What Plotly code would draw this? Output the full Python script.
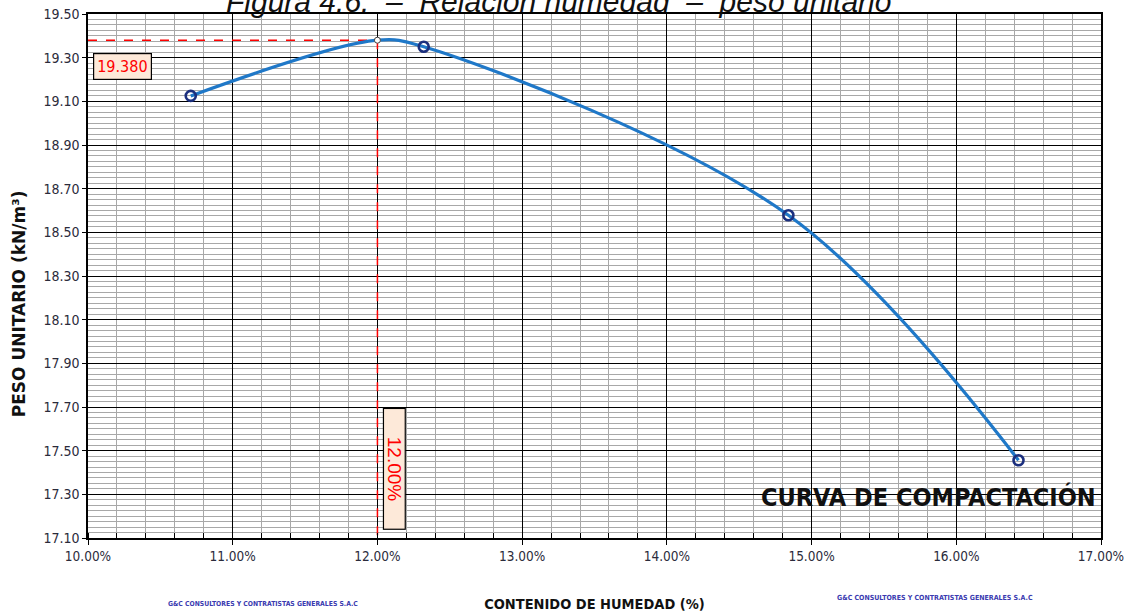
import plotly.graph_objects as go

# ---------------- data ----------------
moisture_pct = [10.71, 12.32, 14.84, 16.43]          # CONTENIDO DE HUMEDAD (%)
unit_weight = [19.125, 19.350, 18.578, 17.456]       # PESO UNITARIO (kN/m3)
omc_pct = 12.00                                      # optimum moisture content
max_unit_weight = 19.380                             # maximum unit weight
x_range = [10.0, 17.0]
y_range = [17.10, 19.50]
x_tick_vals = [10, 11, 12, 13, 14, 15, 16, 17]
x_tick_text = ["10.00%", "11.00%", "12.00%", "13.00%", "14.00%", "15.00%", "16.00%", "17.00%"]
y_tick_vals = [17.10, 17.30, 17.50, 17.70, 17.90, 18.10, 18.30, 18.50, 18.70, 18.90, 19.10, 19.30, 19.50]

title_text = "Figura 4.6.  –  Relación humedad  –  peso unitario"
company = "G&C CONSULTORES Y CONTRATISTAS GENERALES S.A.C"

NARROW = "Liberation Sans Narrow, DejaVu Sans Condensed, Arial Narrow, sans-serif"
TICK_COLOR = "#2b2b3b"

# curve through the test points and the peak
curve = sorted(list(zip(moisture_pct, unit_weight)) + [(omc_pct, max_unit_weight)])
curve_x = [p[0] for p in curve]
curve_y = [p[1] for p in curve]

fig = go.Figure()

# red dashed reference lines
fig.add_trace(go.Scatter(
    x=[x_range[0], omc_pct], y=[max_unit_weight, max_unit_weight],
    mode="lines", line=dict(color="#ff0000", width=1.5, dash="dash"),
    hoverinfo="skip", showlegend=False))
fig.add_trace(go.Scatter(
    x=[omc_pct, omc_pct], y=[max_unit_weight, y_range[0]],
    mode="lines", line=dict(color="#ff0000", width=1.5, dash="dash"),
    hoverinfo="skip", showlegend=False))

# smooth compaction curve
fig.add_trace(go.Scatter(
    x=curve_x, y=curve_y, mode="lines",
    line=dict(color="#1f78c8", width=3.2, shape="spline", smoothing=1.0),
    hoverinfo="skip", showlegend=False))

# test points
fig.add_trace(go.Scatter(
    x=moisture_pct, y=unit_weight, mode="markers",
    marker=dict(symbol="circle-open", size=10, color="#1b2f7e", line=dict(width=2.6, color="#1b2f7e")),
    showlegend=False))

# peak marker
fig.add_trace(go.Scatter(
    x=[omc_pct], y=[max_unit_weight], mode="markers",
    marker=dict(symbol="circle", size=6, color="white", line=dict(width=1, color="#444444")),
    showlegend=False))

fig.update_layout(
    width=1124, height=614,
    margin=dict(l=88, r=23, t=14, b=76, autoexpand=False),
    paper_bgcolor="white", plot_bgcolor="white",
    showlegend=False,
)

fig.update_xaxes(
    range=x_range, tickvals=x_tick_vals, ticktext=x_tick_text,
    automargin=False, ticklabeloverflow="allow",
    showgrid=True, gridcolor="#000000", gridwidth=1,
    showline=True, linecolor="#000000", linewidth=1.5, mirror=True,
    ticks="outside", ticklen=5, tickcolor="#000000",
    tickfont=dict(family=NARROW, size=13.5, color=TICK_COLOR),
    zeroline=False,
    minor=dict(dtick=0.2, tick0=10, showgrid=True, gridcolor="#a8a8a8", gridwidth=1,
               ticks="inside", ticklen=5, tickcolor="#000000"),
    title=dict(text="<b>CONTENIDO DE HUMEDAD (%)</b>", standoff=36,
               font=dict(family=NARROW, size=14.5, color="#111111")),
)

fig.update_yaxes(
    range=y_range, tickvals=y_tick_vals, tickformat=".2f",
    automargin=False,
    showgrid=True, gridcolor="#000000", gridwidth=1,
    showline=True, linecolor="#000000", linewidth=1.5, mirror=True,
    ticks="outside", ticklen=4, tickcolor="#000000",
    tickfont=dict(family=NARROW, size=14, color=TICK_COLOR),
    zeroline=False,
    minor=dict(dtick=0.025, tick0=17.1, showgrid=True, gridcolor="#a8a8a8", gridwidth=1),
)

annotations = [
    # cut-off title at top
    dict(text="<i>" + title_text + "</i>", xref="paper", yref="paper",
         x=(558 - 88) / 1013, y=(537.7 - 1) / 524, xanchor="center", yanchor="middle",
         showarrow=False, font=dict(family="Liberation Sans, Arial, sans-serif", size=30, color="#111111")),
    # y axis title
    dict(text="<b>PESO UNITARIO (kN/m³)</b>", xref="paper", yref="paper",
         x=(19 - 88) / 1013, y=(537.7 - 304) / 524, xanchor="center", yanchor="middle",
         textangle=-90, showarrow=False,
         font=dict(family="DejaVu Sans, sans-serif", size=17, color="#111111")),
    # max unit weight label
    dict(text=f"{max_unit_weight:.3f}", x=10.24, y=19.258, xref="x", yref="y",
         showarrow=False, font=dict(family=NARROW, size=16, color="#ff0000"),
         bgcolor="#fde9d9", bordercolor="#000000", borderwidth=1.2, borderpad=3),
    # optimum moisture label (rotated)
    dict(text=f"{omc_pct:.2f}%", x=12.118, y=17.419, xref="x", yref="y",
         showarrow=False, textangle=90, width=118, height=19,
         font=dict(family="Liberation Sans, Arial, sans-serif", size=19, color="#ff0000"),
         bgcolor="#fde9d9", bordercolor="#000000", borderwidth=1.2, borderpad=1),
    # big label
    dict(text="<b>CURVA DE COMPACTACIÓN</b>", xref="paper", yref="paper",
         x=(1098 - 88) / 1013, y=(537.7 - 497) / 524, xanchor="right", yanchor="middle",
         showarrow=False, font=dict(family=NARROW, size=25, color="#111111")),
    # company footers
    dict(text="<b>" + company + "</b>", xref="paper", yref="paper",
         x=(263 - 88) / 1013, y=(537.7 - 604) / 524, xanchor="center", yanchor="middle",
         showarrow=False, font=dict(family=NARROW, size=6.8, color="#3a3ab0")),
    dict(text="<b>" + company + "</b>", xref="paper", yref="paper",
         x=(935 - 88) / 1013, y=(537.7 - 598) / 524, xanchor="center", yanchor="middle",
         showarrow=False, font=dict(family=NARROW, size=7, color="#3a3ab0")),
]
fig.update_layout(annotations=annotations)

# remove the default 8px page margin so the figure sits at the window's top-left corner
fig.write_html("out.html", config={"displayModeBar": False},
               post_script="document.body.style.margin='0px';")
